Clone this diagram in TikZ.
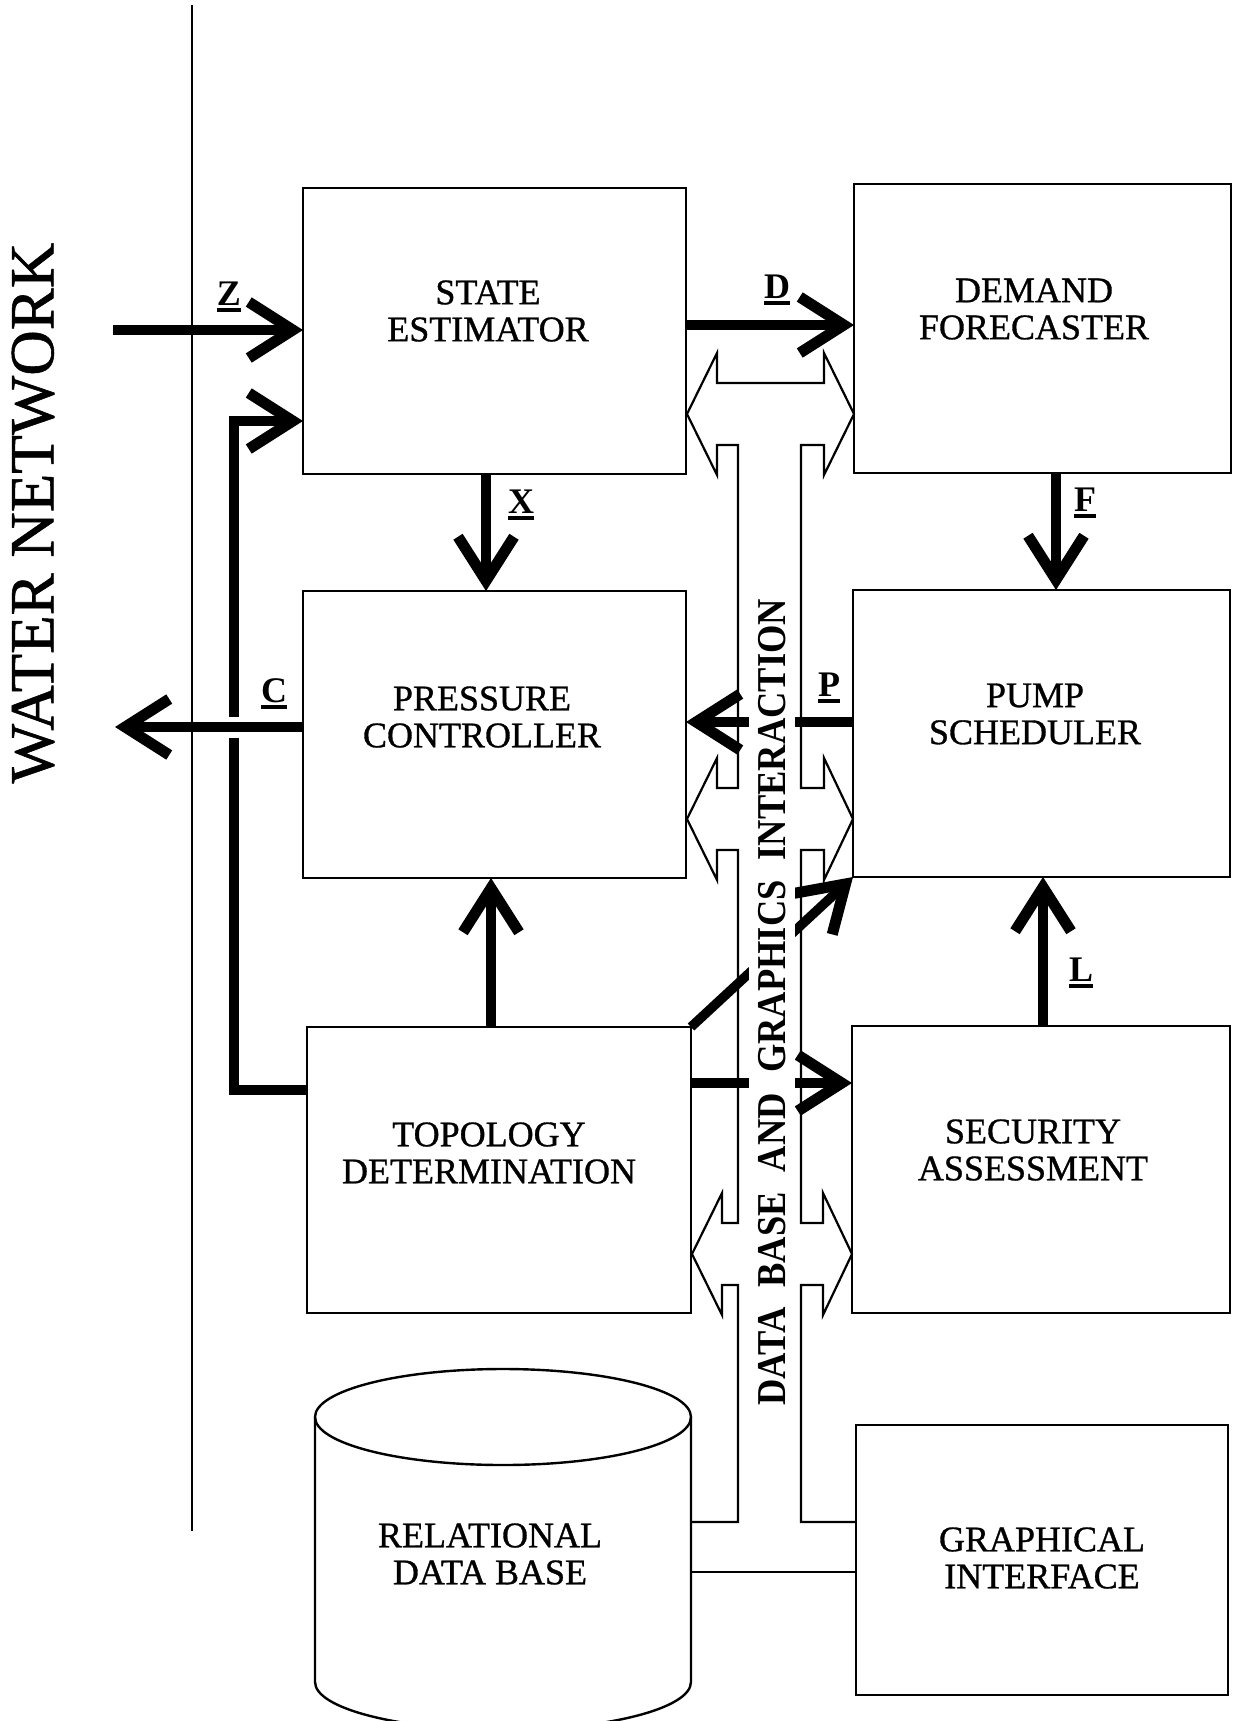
\documentclass[tikz,border=0pt]{standalone}
\usepackage{graphicx}
\usepackage{fontspec}
\setmainfont{Liberation Serif}
\newfontfamily\heavyserif{Liberation Serif}[FakeBold=0.9]
\usetikzlibrary{arrows.meta}
\newcommand\ulbold[1]{\setbox0=\hbox{#1}\vtop{\copy0\kern2.5pt\hrule height 3.8pt width \wd0}}
\begin{document}
\begin{tikzpicture}[x=1pt,y=-1pt,
  box/.style={draw, line width=2.4pt, inner sep=0pt, outer sep=0pt},
  boxtext/.style={font=\heavyserif\fontsize{36}{37}\selectfont, align=center, inner sep=0pt},
  lbl/.style={font=\fontsize{36}{36}\selectfont\bfseries, inner sep=0pt},
  thk/.style={line width=9.5pt, -{Straight Barb[length=44pt,width=56pt,line width=11pt,sharp]}},
  thin/.style={line width=2.2pt},
]
\useasboundingbox (0,0) rectangle (1234,1721);
\fill[white] (0,0) rectangle (1234,1721);

% boxes
\node[box, minimum width=383pt, minimum height=286pt] (se) at (494.5,331) {};
\node[box, minimum width=377pt, minimum height=289pt] (df) at (1042.5,328.5) {};
\node[box, minimum width=383pt, minimum height=287pt] (pc) at (494.5,734.5) {};
\node[box, minimum width=377pt, minimum height=287pt] (ps) at (1041.5,733.5) {};
\node[box, minimum width=384pt, minimum height=286pt] (td) at (499,1170) {};
\node[box, minimum width=378pt, minimum height=287pt] (sa) at (1041,1169.5) {};
\node[box, minimum width=372pt, minimum height=270pt] (gi) at (1042,1560) {};

% cylinder
\draw[line width=2.4pt] (503,1417) ellipse [x radius=188pt, y radius=48pt];
\draw[line width=2.4pt] (315,1417) -- (315,1682) arc[start angle=180, end angle=360, x radius=188pt, y radius=48pt] -- (691,1417);

% box texts
\node[boxtext] (seT) at (488,311) {STATE\\ESTIMATOR};
\node[boxtext] (dfT) at (1034,309) {DEMAND\\FORECASTER};
\node[boxtext] (pcT) at (482,717) {PRESSURE\\CONTROLLER};
\node[boxtext] (psT) at (1035,714) {PUMP\\SCHEDULER};
\node[boxtext] (tdT) at (489,1153) {TOPOLOGY\\DETERMINATION};
\node[boxtext] (saT) at (1033,1150) {SECURITY\\ASSESSMENT};
\node[boxtext] (dbT) at (490,1554) {RELATIONAL\\DATA BASE};
\node[boxtext] (giT) at (1042,1558) {GRAPHICAL\\INTERFACE};

% data base and graphics interaction bus (hollow double arrows)
\draw[thin, line join=miter] (692,1522) -- (738,1522) -- (738,1285) -- (722,1285) -- (722,1315) -- (692,1254) -- (722,1193) -- (722,1223) -- (738,1223) -- (738,850) -- (717,850) -- (717,880) -- (687,819) -- (717,758) -- (717,788) -- (738,788) -- (738,445) -- (717,445) -- (717,475) -- (687,414) -- (717,353) -- (717,383) -- (824,383) -- (824,353) -- (854,414) -- (824,475) -- (824,445) -- (801,445) -- (801,788) -- (824,788) -- (824,758) -- (853,819) -- (824,880) -- (824,850) -- (801,850) -- (801,1223) -- (823,1223) -- (823,1193) -- (852,1254) -- (823,1315) -- (823,1285) -- (801,1285) -- (801,1522) -- (gi.west |- 0,1522);
\draw[thin] (691,1572) -- (gi.west |- 0,1572);

% coordinates for connectors
\coordinate (zin) at (113,330);
\coordinate (fb1) at (234,1090);
\coordinate (fb2) at (234,421);
\coordinate (cout) at (115,727);
\coordinate (xc) at (486,530);
\coordinate (dc) at (770,325);
\coordinate (fc) at (1056,530);
\coordinate (pcy) at (770,722);
\coordinate (uc) at (491,950);
\coordinate (tc) at (770,1083);
\coordinate (lc) at (1043,950);

% thick connectors
\draw[thk] (zin) -- (se.west |- zin);
\draw[thk] (td.west |- fb1) -- (fb1) -- (fb2) -- (se.west |- fb2);
\draw[thk] (se.east |- dc) -- (df.west |- dc);
\draw[thk] (se.south -| xc) -- (pc.north -| xc);
\draw[thk] (df.south -| fc) -- (ps.north -| fc);
\draw[thk] (ps.west |- pcy) -- (pc.east |- pcy);
\draw[thk] (td.north -| uc) -- (pc.south -| uc);
\draw[thk] (td.north east) -- (ps.south west);
\draw[thk] (td.east |- tc) -- (sa.west |- tc);
\draw[thk] (sa.north -| lc) -- (ps.south -| lc);
\fill[white] (226,717) rectangle (242,738);
\draw[thk] (pc.west |- cout) -- (cout);

% bus text
\node[rotate=90, fill=white, inner xsep=0pt, inner ysep=9pt, font=\fontsize{41}{41}\selectfont\bfseries] (bus) at (772,1002)
  {\scalebox{0.89}[1]{DATA\hspace{0.55em}BASE\hspace{0.55em}AND\hspace{0.55em}GRAPHICS\hspace{0.55em}INTERACTION}};

% water network boundary
\coordinate (wtop) at (192,5);
\coordinate (wbot) at (192,1531);
\draw[thin] (wtop) -- (wbot);
\node[rotate=90, font=\heavyserif\fontsize{63}{63}\selectfont, inner sep=0pt] (wn) at (33,513) {WATER NETWORK};

% labels
\node[lbl] (lZ) at (229,297) {\ulbold{Z}};
\node[lbl] (lD) at (777,290) {\ulbold{D}};
\node[lbl] (lX) at (521,505) {\ulbold{X}};
\node[lbl] (lC) at (274,694) {\ulbold{C}};
\node[lbl] (lP) at (829,688) {\ulbold{P}};
\node[lbl] (lF) at (1085,503) {\ulbold{F}};
\node[lbl] (lL) at (1081,973) {\ulbold{L}};
\end{tikzpicture}
\end{document}
